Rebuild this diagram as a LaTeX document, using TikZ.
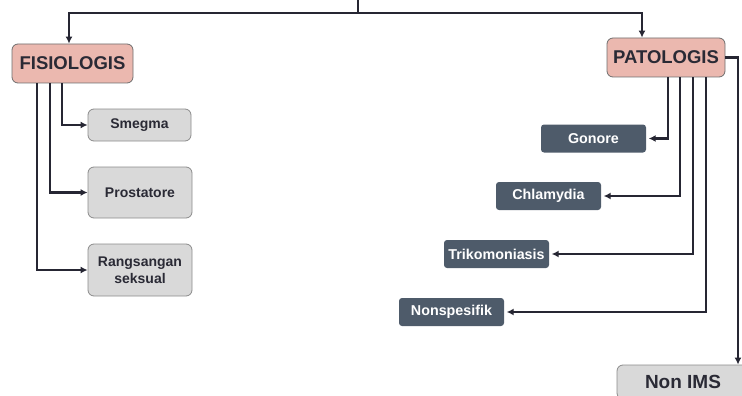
\documentclass[tikz,border=0pt]{standalone}
\usepackage{fontspec}
\setmainfont{Liberation Sans}
\usetikzlibrary{arrows.meta}
\definecolor{linec}{HTML}{262633}
\definecolor{pinkf}{HTML}{EBB8AF}
\definecolor{grayf}{HTML}{D9D9D9}
\definecolor{darkf}{HTML}{4E5B6A}
\definecolor{txtc}{HTML}{2A2A35}
\definecolor{bordc}{HTML}{6E6E6E}
\tikzset{
  base/.style={inner sep=0pt, align=center, font=\bfseries},
  headbox/.style={base, draw=bordc, line width=0.8pt, fill=pinkf, rounded corners=6pt,
    text=txtc, font=\bfseries\fontsize{18.5}{20}\selectfont},
  graybox/.style={base, draw=bordc!80, line width=0.8pt, fill=grayf, rounded corners=6pt,
    text=txtc, font=\bfseries\fontsize{14}{17}\selectfont},
  darkbox/.style={base, fill=darkf, rounded corners=3pt, text=white,
    font=\bfseries\fontsize{14.3}{16}\selectfont, minimum width=105pt, minimum height=28pt},
  conn/.style={draw=linec, line width=2.4pt, -{Latex[length=7pt,width=7pt]}},
}
\begin{document}
\begin{tikzpicture}[x=1pt,y=-1pt]
\useasboundingbox (0,0) rectangle (742,396);
\clip (0,0) rectangle (742,396);

% main categories
\node[headbox, minimum width=121pt, minimum height=39pt] (fis) at (72.5,63.5) {FISIOLOGIS};
\node[headbox, minimum width=118pt, minimum height=39pt] (pat) at (666,57.5) {PATOLOGIS};

% physiological causes
\node[graybox, minimum width=103pt, minimum height=32pt] (smegma) at (139.5,125) {Smegma};
\node[graybox, minimum width=104pt, minimum height=51pt] (prost) at (140,192.5) {Prostatore};
\node[graybox, minimum width=104pt, minimum height=52pt] (rang) at (140,270) {Rangsangan\\seksual};

% pathological causes
\node[darkbox] (gon) at (593.5,138.5) {Gonore};
\node[darkbox] (chl) at (548.5,196) {Chlamydia};
\node[darkbox] (tri) at (496.5,254) {Trikomoniasis};
\node[darkbox] (nsp) at (451.5,312) {Nonspesifik};
\node[graybox, minimum width=132pt, minimum height=34pt,
  font=\bfseries\fontsize{19}{20}\selectfont] (nonims) at (683,382) {Non IMS};

% root connector
\coordinate (top) at (358,0);
\coordinate (split) at (358,13);
\draw[draw=linec, line width=2.4pt] (top) -- (split);
\draw[conn] (split) -| ([xshift=-3.5pt]fis.north);
\draw[conn] (split) -| ([xshift=-24pt]pat.north);

% branches of FISIOLOGIS
\draw[conn] ([xshift=-10.5pt]fis.south) |- (smegma.west);
\draw[conn] ([xshift=-22.5pt]fis.south) |- (prost.west);
\draw[conn] ([xshift=-35.5pt]fis.south) |- (rang.west);

% branches of PATOLOGIS
\draw[conn, shorten >=2.5pt] ([xshift=2pt]pat.south) |- (gon.east);
\draw[conn, shorten >=2.5pt] ([xshift=14pt]pat.south) |- (chl.east);
\draw[conn, shorten >=2.5pt] ([xshift=27pt]pat.south) |- (tri.east);
\draw[conn, shorten >=2.5pt] ([xshift=40pt]pat.south) |- (nsp.east);
\draw[conn] (pat.east) -| ([xshift=55pt]nonims.north);
\end{tikzpicture}
\end{document}
